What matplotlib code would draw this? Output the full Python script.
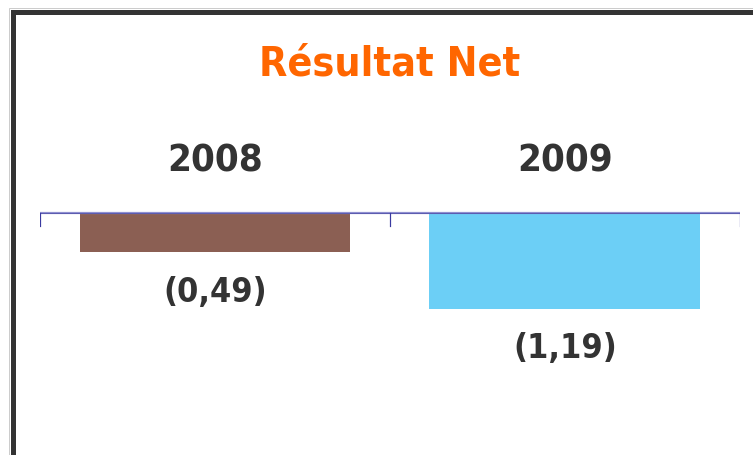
import matplotlib
matplotlib.use("Agg")
import matplotlib.pyplot as plt
from matplotlib.patches import Rectangle

categories = ["2008", "2009"]
values = [-0.49, -1.19]
colors = ["#8B5F53", "#6CCFF6"]
title = "Résultat Net"

W, H = 753, 456
fig = plt.figure(figsize=(W / 100, H / 100), dpi=100)
fig.patch.set_facecolor("white")

px = 72 / 100  # points per pixel

# frame of the slide
fig.add_artist(Rectangle((9 / W, -0.1), 2, 1.1 - 9 / H, transform=fig.transFigure,
                         facecolor="none", edgecolor="#cccccc", linewidth=1 * px))
fig.add_artist(Rectangle((12.5 / W, -0.1), 2, 1.1 - 12.5 / H, transform=fig.transFigure,
                         facecolor="none", edgecolor="#333333", linewidth=5 * px))

ax = fig.add_axes([40 / W, 0, 700 / W, 1])
scale = 81.0  # pixels per unit
zero_from_top = 213.5
ax.set_ylim(-(H - zero_from_top) / scale, zero_from_top / scale)
ax.set_xlim(-0.5, len(categories) - 0.5)
ax.axis("off")

xs = list(range(len(categories)))
ax.bar(xs, values, width=271 / 350, color=colors, zorder=2)

# baseline axis with ticks
ax.axhline(0, color="#9090d0", linewidth=2.2 * px, zorder=3)
ax.axhline(0, color="#5050a8", linewidth=0.8 * px, zorder=3)
for b in [i - 0.5 for i in range(len(categories) + 1)]:
    ax.plot([b, b], [0, -13 / scale], color="#3a3aa0", linewidth=1.2 * px, zorder=3)

font = dict(family="DejaVu Sans", fontstretch="condensed", fontweight="bold")

fig.text(390 / W, 1 - 75 / H, title, ha="center", va="baseline",
         color="#FF6600", fontsize=29.5, **font)

for x, cat, v in zip(xs, categories, values):
    ax.annotate(cat, (x, 0), xytext=(0, 41.5 * px), textcoords="offset points",
                ha="center", va="baseline", color="#333333", fontsize=27.5, **font)
    lab = "(" + f"{abs(v):.2f}".replace(".", ",") + ")"
    ax.annotate(lab, (x, v), xytext=(0, -48.5 * px), textcoords="offset points",
                ha="center", va="baseline", color="#333333", fontsize=24.5, **font)

fig.savefig("out.png", dpi=100, facecolor="white")
